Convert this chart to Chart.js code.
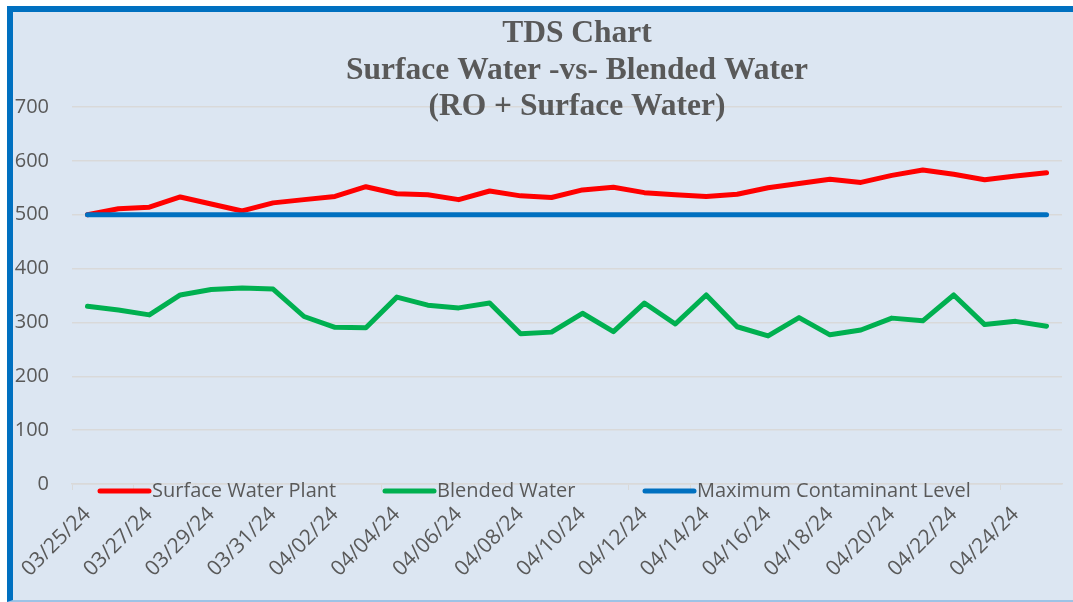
<!DOCTYPE html>
<html>
<head>
<meta charset="utf-8">
<script src="https://cdn.jsdelivr.net/npm/chart.js@4.4.1/dist/chart.umd.min.js"></script>
<style>
    html, body { margin: 0; padding: 0; background: #ffffff; overflow: hidden; }
    #frame {
        position: absolute; left: 7px; top: 6px;
        width: 1060px; height: 588px;
        background: #dce6f2;
        border-left: 6px solid #0070c0;
        border-top: 6px solid #0070c0;
        border-bottom: 2px solid #9dc3e6;
    }
    #box { position: relative; width: 1060px; height: 588px; }
</style>
</head>
<body>
<div id="frame"><div id="box"><canvas id="tds"></canvas></div></div>
<script>
// Data
const dates = [
    "03/25/24", "03/26/24", "03/27/24", "03/28/24", "03/29/24", "03/30/24", "03/31/24", "04/01/24",
    "04/02/24", "04/03/24", "04/04/24", "04/05/24", "04/06/24", "04/07/24", "04/08/24", "04/09/24",
    "04/10/24", "04/11/24", "04/12/24", "04/13/24", "04/14/24", "04/15/24", "04/16/24", "04/17/24",
    "04/18/24", "04/19/24", "04/20/24", "04/21/24", "04/22/24", "04/23/24", "04/24/24", "04/25/24"
];
const surfaceWater = [
    500, 511, 514, 533, 520, 507, 522, 528,
    534, 552, 539, 537, 528, 544, 535, 532,
    546, 551, 541, 537, 534, 538, 550, 558,
    566, 560, 573, 583, 575, 565, 572, 578
];
const blendedWater = [
    330, 323, 314, 351, 361, 364, 362, 311,
    291, 290, 347, 332, 327, 336, 279, 282,
    317, 283, 336, 297, 351, 292, 275, 309,
    277, 286, 308, 303, 351, 296, 302, 293
];
const maxLevel = [
    500, 500, 500, 500, 500, 500, 500, 500,
    500, 500, 500, 500, 500, 500, 500, 500,
    500, 500, 500, 500, 500, 500, 500, 500,
    500, 500, 500, 500, 500, 500, 500, 500
];
const seriesNames = ["Surface Water Plant", "Blended Water", "Maximum Contaminant Level"];
const seriesColors = ["#ff0000", "#00b050", "#0070c0"];
const titleLines = ["TDS Chart", "Surface Water -vs- Blended Water", "(RO + Surface Water)"];

const textColor = "#595959";
const gridColor = "#d9d9d9";

// title drawn over the plot, like the original
const titlePlugin = {
    id: "overTitle",
    afterDraw(chart) {
        const { ctx, chartArea } = chart;
        const cx = (chartArea.left + chartArea.right) / 2 + 10;
        const baselines = [chartArea.top - 65, chartArea.top - 28, chartArea.top + 8];
        ctx.save();
        ctx.font = "bold 31.5px 'Liberation Serif', 'Times New Roman', serif";
        ctx.fillStyle = textColor;
        ctx.textAlign = "center";
        ctx.textBaseline = "alphabetic";
        titleLines.forEach((line, i) => ctx.fillText(line, cx, baselines[i]));
        ctx.restore();
    }
};

// legend sits on top of the axis area
const legendPlugin = {
    id: "inlineLegend",
    afterDraw(chart) {
        const { ctx, chartArea } = chart;
        const y = chartArea.bottom + 7;
        const starts = [25, 310, 570];
        ctx.save();
        ctx.font = "20px 'Open Sans', sans-serif";
        ctx.textBaseline = "middle";
        ctx.textAlign = "left";
        chart.data.datasets.forEach((ds, i) => {
            const x = chartArea.left + starts[i];
            ctx.strokeStyle = ds.borderColor;
            ctx.lineWidth = 5;
            ctx.lineCap = "round";
            ctx.beginPath();
            ctx.moveTo(x + 3, y);
            ctx.lineTo(x + 52, y);
            ctx.stroke();
            ctx.fillStyle = textColor;
            ctx.fillText(ds.label, x + 55, y);
        });
        ctx.restore();
    }
};

function makeSet(i, values, order) {
    return {
        label: seriesNames[i],
        data: values,
        borderColor: seriesColors[i],
        backgroundColor: seriesColors[i],
        borderWidth: 5,
        pointRadius: 0,
        pointHoverRadius: 0,
        tension: 0,
        borderCapStyle: "round",
        borderJoinStyle: "round",
        order: order
    };
}

new Chart(document.getElementById("tds"), {
    type: "line",
    data: {
        labels: dates,
        datasets: [
            makeSet(0, surfaceWater, 3),
            makeSet(1, blendedWater, 2),
            makeSet(2, maxLevel, 1)
        ]
    },
    options: {
        responsive: true,
        maintainAspectRatio: false,
        animation: false,
        layout: { padding: { top: 95, right: 11, left: 0, bottom: 0 } },
        plugins: {
            legend: { display: false },
            title: { display: false },
            tooltip: { enabled: false }
        },
        scales: {
            x: {
                offset: true,
                afterFit(scale) {
                    scale.height = 116;
                    // keep the plot width fixed, the rotated labels may spill left
                    scale.paddingLeft = 0;
                    scale.paddingRight = 0;
                },
                grid: {
                    offset: true,
                    drawOnChartArea: false,
                    tickLength: 6,
                    color: (c) => (c.index % 2 === 0 ? gridColor : "rgba(0,0,0,0)")
                },
                border: { display: true, color: gridColor, width: 1.5 },
                ticks: {
                    autoSkip: false,
                    minRotation: 45,
                    maxRotation: 45,
                    padding: 12,
                    color: textColor,
                    font: { family: "'Open Sans', sans-serif", size: 21 },
                    callback: function(value, index) {
                        return index % 2 === 0 ? this.getLabelForValue(value) : "";
                    }
                }
            },
            y: {
                min: 0,
                max: 700,
                afterFit(scale) { scale.width = 59; },
                grid: { color: gridColor, lineWidth: 1.5, drawTicks: false },
                border: { display: false },
                ticks: {
                    stepSize: 100,
                    padding: 23,
                    color: textColor,
                    font: { family: "'Open Sans', sans-serif", size: 20 }
                }
            }
        }
    },
    plugins: [titlePlugin, legendPlugin]
});
</script>
</body>
</html>
